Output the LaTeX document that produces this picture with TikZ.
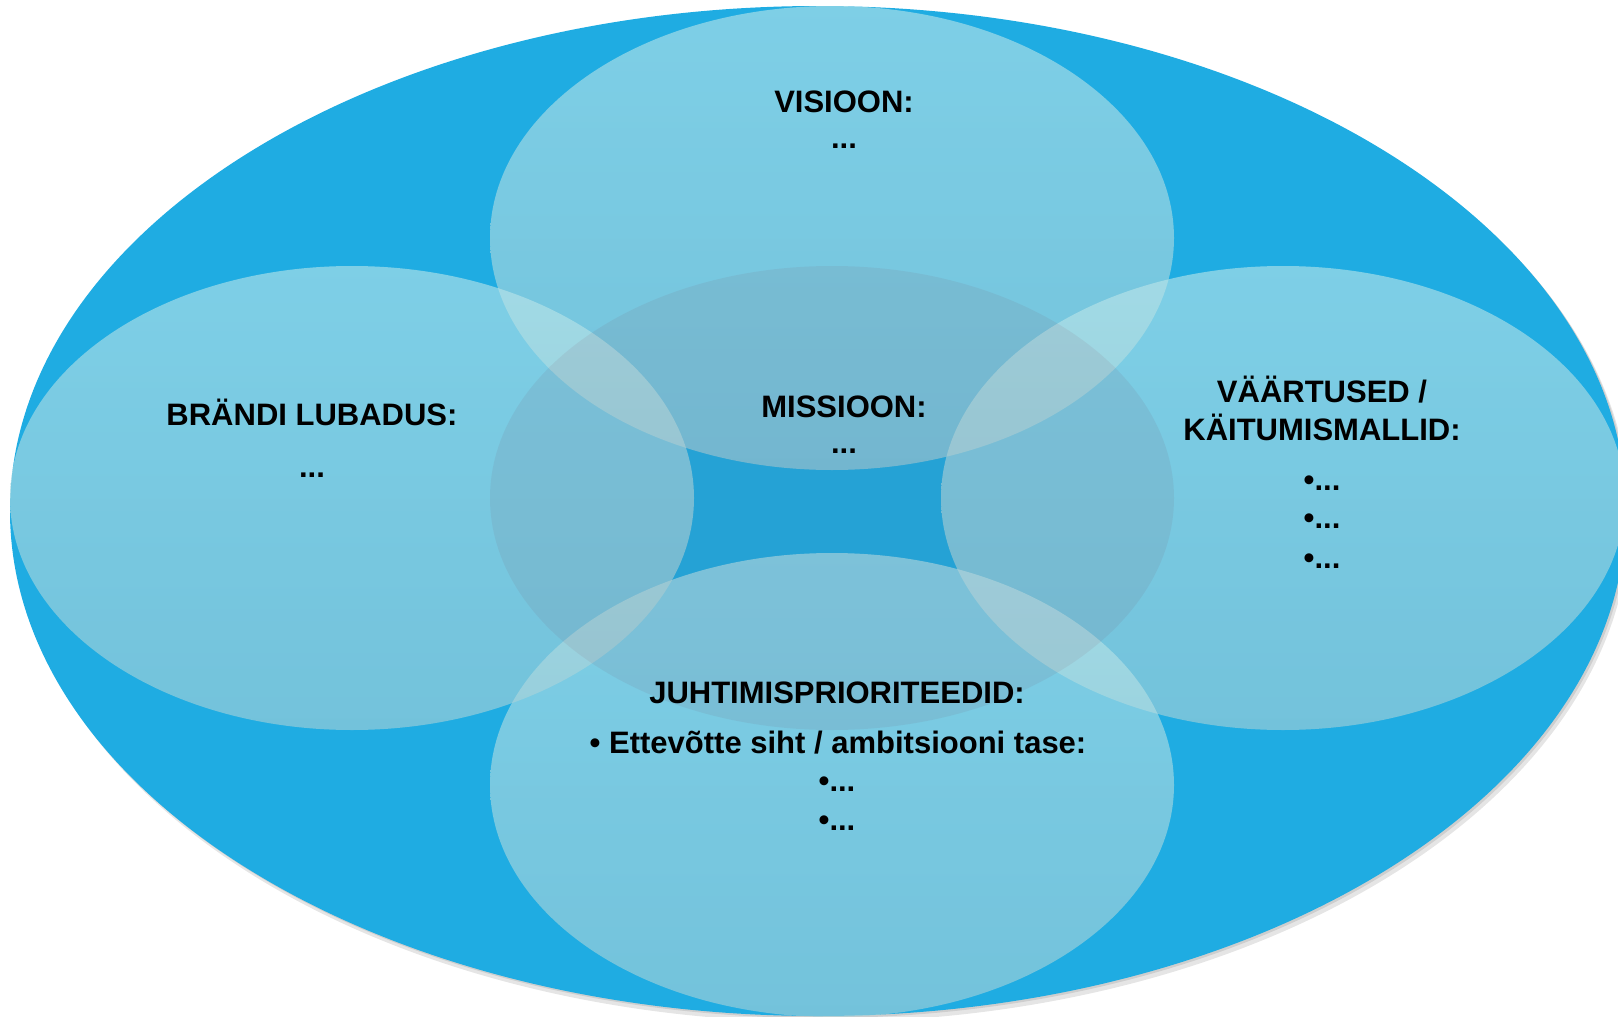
\documentclass[tikz,border=0pt]{standalone}
\usepackage{fontspec}
\setmainfont{Liberation Sans}
\definecolor{outerblue}{RGB}{31,172,226}
\definecolor{blobtop}{RGB}{190,231,234}
\definecolor{blobbot}{RGB}{172,210,215}
\definecolor{midtint}{RGB}{120,40,60}

\tikzset{
  blob/.style={top color=blobtop, bottom color=blobbot, fill opacity=0.6},
  txt/.style={anchor=base, inner sep=0pt, text=black,
    font=\fontsize{15.5}{19}\selectfont\bfseries},
}

\begin{document}
\begin{tikzpicture}[x=0.5pt, y=-0.5pt]
\path[use as bounding box, clip] (0,0) rectangle (1618,1017);
% outer ellipse with its shadow
\fill[black, opacity=0.10] (822,516) ellipse [x radius=404pt, y radius=253pt];
\fill[black, opacity=0.10] (820,513) ellipse [x radius=404pt, y radius=252.5pt];
\fill[outerblue] (818,511) ellipse [x radius=404pt, y radius=252.5pt];
% four light ellipses
\shade[blob] (832,238) ellipse [x radius=171pt, y radius=116pt];
\shade[blob] (1283,498) ellipse [x radius=171pt, y radius=116pt];
\shade[blob] (832,785) ellipse [x radius=171pt, y radius=116pt];
\shade[blob] (352,498) ellipse [x radius=171pt, y radius=116pt];
% middle ellipse
\fill[midtint, fill opacity=0.075] (832,498) ellipse [x radius=171pt, y radius=116pt];

% texts
\node[txt] (vis-head) at (844,112) {VISIOON:};
\node[txt] (vis-dots) at (844,148) {...};
\node[txt] (mis-head) at (844,417) {MISSIOON:};
\node[txt] (mis-dots) at (844,453) {...};
\node[txt] (brand-head) at (312,425) {BRÄNDI LUBADUS:};
\node[txt] (brand-dots) at (312,477) {...};
\node[txt] (val-head1) at (1322,402) {VÄÄRTUSED /};
\node[txt] (val-head2) at (1322,440) {KÄITUMISMALLID:};
\node[txt] (val-1) at (1322,490) {•...};
\node[txt] (val-2) at (1322,528) {•...};
\node[txt] (val-3) at (1322,568) {•...};
\node[txt] (prio-head) at (837,703) {JUHTIMISPRIORITEEDID:};
\node[txt] (prio-sub) at (838,753) {• Ettevõtte siht / ambitsiooni tase:};
\node[txt] (prio-1) at (837,791) {•...};
\node[txt] (prio-2) at (837,830) {•...};
\end{tikzpicture}
\end{document}
